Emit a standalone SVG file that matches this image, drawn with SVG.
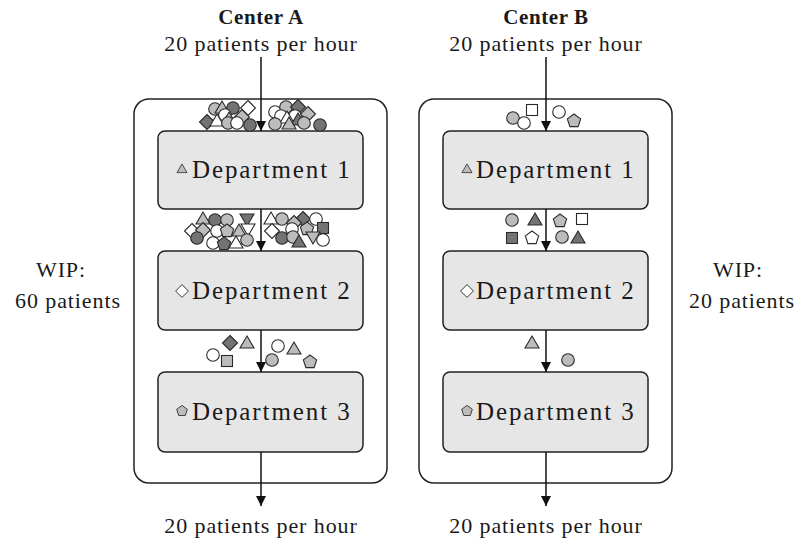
<svg xmlns="http://www.w3.org/2000/svg" xmlns:xlink="http://www.w3.org/1999/xlink" width="797" height="540" viewBox="0 0 797 540">
  <style>
    text { font-family: "Liberation Serif", "Times New Roman", serif; fill: #1a1a1a; }
    .title { font-size: 21px; font-weight: bold; text-anchor: middle; letter-spacing: 0.6px; }
    .lbl { font-size: 22px; text-anchor: middle; letter-spacing: 0.9px; }
    .dept { font-size: 25px; letter-spacing: 1.9px; }
    .outer { fill: #ffffff; stroke: #222; stroke-width: 1.5; }
    .box { fill: #e6e6e6; stroke: #222; stroke-width: 1.5; }
    .flow { stroke: #111; stroke-width: 1.5; fill: none; marker-end: url(#arrow); }
    .tk { stroke: #2a2a2a; stroke-width: 1.1; }
    .w { fill: #ffffff; }
    .l { fill: #bcbcbc; }
    .d { fill: #737373; }
  </style>
  <defs>
    <marker id="arrow" viewBox="0 0 10 16" refX="10" refY="8" markerWidth="10" markerHeight="16" markerUnits="userSpaceOnUse" orient="auto">
      <path d="M0,3 L10,8 L0,13 Z" fill="#111"/>
    </marker>
    <circle id="ci" r="6.3"/>
    <polygon id="tr" points="0,-7 7,5 -7,5"/>
    <polygon id="it" points="0,7 7,-5 -7,-5"/>
    <polygon id="di" points="0,-7.5 7.5,0 0,7.5 -7.5,0"/>
    <rect id="sq" x="-5.5" y="-5.5" width="11" height="11"/>
    <polygon id="pe" points="0,-7 6.66,-2.16 4.11,5.66 -4.11,5.66 -6.66,-2.16"/>
  </defs>

  <!-- titles and rates -->
  <text class="title" x="261" y="24">Center A</text>
  <text class="title" x="546" y="24">Center B</text>
  <text class="lbl" x="261" y="51">20 patients per hour</text>
  <text class="lbl" x="546" y="51">20 patients per hour</text>
  <text class="lbl" x="261" y="533">20 patients per hour</text>
  <text class="lbl" x="546" y="533">20 patients per hour</text>

  <!-- work in process -->
  <text class="lbl" x="61" y="277">WIP:</text>
  <text class="lbl" x="68" y="308">60 patients</text>
  <text class="lbl" x="738" y="277">WIP:</text>
  <text class="lbl" x="742" y="308">20 patients</text>

  <!-- containers -->
  <g id="centerA">
    <rect class="outer" x="134" y="99" width="253" height="384" rx="15"/>
  </g>
  <g id="centerB">
    <rect class="outer" x="419" y="99" width="253" height="384" rx="15"/>
  </g>

  <g id="a-dept1">
    <rect class="box" x="158" y="131" width="205" height="78" rx="7"/>
    <use href="#tr" class="tk l" transform="translate(182,169) scale(0.72)"/>
    <text class="dept" x="192" y="178">Department 1</text>
  </g>
  <g id="a-dept2">
    <rect class="box" x="158" y="251" width="205" height="79" rx="7"/>
    <use href="#di" class="tk w" transform="translate(182,291) scale(0.85)"/>
    <text class="dept" x="192" y="299">Department 2</text>
  </g>
  <g id="a-dept3">
    <rect class="box" x="158" y="372" width="205" height="80" rx="7"/>
    <use href="#pe" class="tk l" transform="translate(182,411) scale(0.8)"/>
    <text class="dept" x="192" y="420">Department 3</text>
  </g>

  <g id="b-dept1">
    <rect class="box" x="443" y="131" width="205" height="78" rx="7"/>
    <use href="#tr" class="tk l" transform="translate(467,169) scale(0.72)"/>
    <text class="dept" x="476" y="178">Department 1</text>
  </g>
  <g id="b-dept2">
    <rect class="box" x="443" y="251" width="205" height="79" rx="7"/>
    <use href="#di" class="tk w" transform="translate(467,291) scale(0.85)"/>
    <text class="dept" x="476" y="299">Department 2</text>
  </g>
  <g id="b-dept3">
    <rect class="box" x="443" y="372" width="205" height="80" rx="7"/>
    <use href="#pe" class="tk l" transform="translate(467,411) scale(0.8)"/>
    <text class="dept" x="476" y="420">Department 3</text>
  </g>

  <!-- queued patients, Center A -->
  <g id="queueA1">
    <use href="#ci" class="tk l" x="215" y="109"/>
    <use href="#tr" class="tk l" x="222" y="108"/>
    <use href="#ci" class="tk d" x="233" y="108"/>
    <use href="#di" class="tk w" x="248" y="108"/>
    <use href="#ci" class="tk w" x="225" y="115"/>
    <use href="#di" class="tk l" x="242" y="117"/>
    <use href="#di" class="tk d" x="207" y="122"/>
    <use href="#tr" class="tk w" x="217" y="121"/>
    <use href="#tr" class="tk l" x="229" y="119"/>
    <use href="#ci" class="tk l" x="228" y="123"/>
    <use href="#ci" class="tk w" x="237" y="123"/>
    <use href="#ci" class="tk d" x="250" y="125"/>

    <use href="#ci" class="tk w" x="275" y="112"/>
    <use href="#ci" class="tk l" x="286" y="107"/>
    <use href="#di" class="tk d" x="298" y="107"/>
    <use href="#ci" class="tk w" x="281" y="116"/>
    <use href="#ci" class="tk w" x="295" y="116"/>
    <use href="#di" class="tk l" x="308" y="114"/>
    <use href="#tr" class="tk w" x="287" y="118"/>
    <use href="#tr" class="tk d" x="298" y="120"/>
    <use href="#ci" class="tk l" x="275" y="124"/>
    <use href="#tr" class="tk l" x="289" y="124"/>
    <use href="#ci" class="tk l" x="304" y="123"/>
    <use href="#ci" class="tk d" x="320" y="125"/>
  </g>
  <g id="queueA2">
    <use href="#tr" class="tk l" x="203" y="219"/>
    <use href="#ci" class="tk d" x="215" y="220"/>
    <use href="#ci" class="tk l" x="227" y="220"/>
    <use href="#it" class="tk d" x="247" y="219"/>
    <use href="#di" class="tk w" x="192" y="231"/>
    <use href="#di" class="tk l" x="203" y="230"/>
    <use href="#ci" class="tk w" x="217" y="231"/>
    <use href="#pe" class="tk l" x="227" y="231"/>
    <use href="#tr" class="tk l" x="239" y="231"/>
    <use href="#it" class="tk w" x="248" y="229"/>
    <use href="#ci" class="tk d" x="197" y="238"/>
    <use href="#ci" class="tk w" x="213" y="243"/>
    <use href="#pe" class="tk d" x="224" y="244"/>
    <use href="#tr" class="tk w" x="236" y="243"/>
    <use href="#ci" class="tk l" x="247" y="240"/>

    <use href="#tr" class="tk w" x="271" y="219"/>
    <use href="#ci" class="tk l" x="282" y="219"/>
    <use href="#di" class="tk d" x="303" y="219"/>
    <use href="#ci" class="tk w" x="316" y="219"/>
    <use href="#di" class="tk l" x="294" y="223"/>
    <use href="#di" class="tk w" x="272" y="231"/>
    <use href="#ci" class="tk w" x="292" y="229"/>
    <use href="#pe" class="tk l" x="307" y="229"/>
    <use href="#sq" class="tk d" x="323" y="228"/>
    <use href="#ci" class="tk d" x="282" y="238"/>
    <use href="#ci" class="tk l" x="293" y="237"/>
    <use href="#tr" class="tk d" x="299" y="242"/>
    <use href="#it" class="tk l" x="313" y="237"/>
    <use href="#ci" class="tk w" x="323" y="240"/>
  </g>
  <g id="queueA3">
    <use href="#di" class="tk d" x="230" y="343"/>
    <use href="#tr" class="tk l" x="247" y="343"/>
    <use href="#ci" class="tk w" x="213" y="355"/>
    <use href="#sq" class="tk l" x="227" y="361"/>
    <use href="#ci" class="tk w" x="278" y="346"/>
    <use href="#tr" class="tk l" x="294" y="349"/>
    <use href="#ci" class="tk l" x="272" y="360"/>
    <use href="#pe" class="tk l" x="310" y="362"/>
  </g>

  <!-- queued patients, Center B -->
  <g id="queueB1">
    <use href="#ci" class="tk l" x="513" y="118"/>
    <use href="#ci" class="tk w" x="524" y="123"/>
    <use href="#sq" class="tk w" x="532" y="110"/>
    <use href="#ci" class="tk w" x="559" y="112"/>
    <use href="#pe" class="tk l" x="574" y="121"/>
  </g>
  <g id="queueB2">
    <use href="#ci" class="tk l" x="512" y="220"/>
    <use href="#tr" class="tk d" x="535" y="220"/>
    <use href="#pe" class="tk l" x="560" y="221"/>
    <use href="#sq" class="tk w" x="582" y="219"/>
    <use href="#sq" class="tk d" x="512" y="238"/>
    <use href="#pe" class="tk w" x="532" y="238"/>
    <use href="#ci" class="tk l" x="562" y="237"/>
    <use href="#tr" class="tk d" x="578" y="238"/>
  </g>
  <g id="queueB3">
    <use href="#tr" class="tk l" x="532" y="343"/>
    <use href="#ci" class="tk l" x="568" y="360"/>
  </g>

  <!-- patient flow -->
  <g id="connectors">
    <line class="flow" x1="261" y1="57" x2="261" y2="131"/>
    <line class="flow" x1="261" y1="209" x2="261" y2="251"/>
    <line class="flow" x1="261" y1="330" x2="261" y2="372"/>
    <line class="flow" x1="261" y1="452" x2="261" y2="506"/>
    <line class="flow" x1="546" y1="57" x2="546" y2="131"/>
    <line class="flow" x1="546" y1="209" x2="546" y2="251"/>
    <line class="flow" x1="546" y1="330" x2="546" y2="372"/>
    <line class="flow" x1="546" y1="452" x2="546" y2="506"/>
  </g>
</svg>
